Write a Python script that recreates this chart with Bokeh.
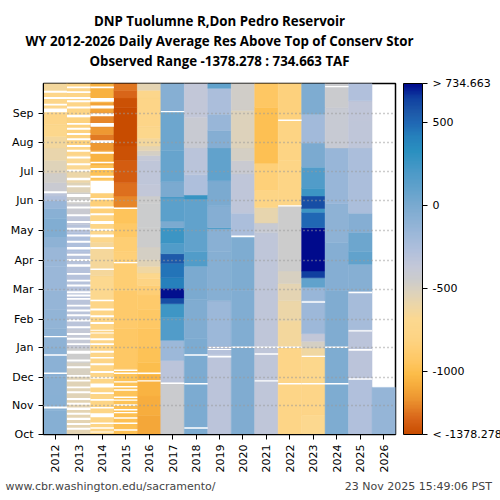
import math
import numpy as np
from bokeh.plotting import figure
from bokeh.models import (ColumnDataSource, LinearColorMapper, ColorBar, FixedTicker,
                          CustomJSTickFormatter, Title, Range1d)
from bokeh.embed import file_html
from bokeh.resources import INLINE

# ---------------- text ----------------
title_lines = ["DNP Tuolumne R,Don Pedro Reservoir",
               "WY 2012-2026 Daily Average Res Above Top of Conserv Stor",
               "Observed Range -1378.278 : 734.663 TAF"]
footer_left = "www.cbr.washington.edu/sacramento/"
footer_right = "23 Nov 2025 15:49:06 PST"

# ---------------- axes ----------------
years = [2012, 2013, 2014, 2015, 2016, 2017, 2018, 2019, 2020, 2021, 2022, 2023, 2024, 2025, 2026]
month_labels = ["Oct", "Nov", "Dec", "Jan", "Feb", "Mar", "Apr", "May", "Jun", "Jul", "Aug", "Sep"]
month_days = [0, 30, 59, 90, 120, 151, 181, 212, 243, 273, 304, 334]
obs_min = -1378.278
obs_max = 734.663
cbar_ticks = [-1000, -500, 0, 500]

# ---------------- data: (day of water year, TAF) segments, last entry = end ----------------
wy2012 = [(0, -60), (25, -70), (40, -80), (60, -90), (90, -100), (110, -120), (130, -140), (150, -160),
          (175, -160), (195, -100), (205, -40), (225, -80), (235, -150), (243, -280), (248, -330),
          (252, -420), (262, -470), (272, -530), (285, -580), (298, -640), (310, -720), (322, -760),
          (340, -750), (358, -640), (365, None)]
wy2013 = [(0, -560), (35, -540), (60, -500), (75, -450), (90, -380), (110, -320), (150, -300), (190, -260),
          (210, -300), (218, -340), (228, -420), (240, -460), (252, -530), (262, -600), (275, -680),
          (290, -760), (300, -820), (330, -780), (340, -760), (365, None)]
wy2014 = [(0, -780), (60, -770), (140, -700), (165, -650), (200, -720), (210, -780), (228, -850),
          (255, -900), (265, -980), (280, -1050), (295, -1150), (305, -1230), (312, -1150), (320, -1200),
          (335, -1120), (345, -1060), (365, None)]
wy2015 = [(0, -990), (30, -970), (69, -930), (110, -900), (150, -870), (178, -850), (190, -870),
          (205, -920), (220, -960), (234, -1000), (236, -1200), (248, -1260), (262, -1320), (285, -1360),
          (300, -1375), (340, -1360), (350, -1280), (358, -1240), (365, None)]
wy2016 = [(0, -1100), (20, -1080), (40, -1050), (62, -1000), (75, -980), (90, -950), (110, -930),
          (130, -900), (145, -860), (155, -800), (162, -720), (168, -620), (175, -540), (182, -480),
          (195, -450), (215, -440), (240, -450), (248, -360), (260, -340), (285, -380), (290, -480),
          (295, -560), (300, -640), (308, -720), (320, -760), (350, -740), (358, -560), (365, None)]
wy2017 = [(0, -430), (54, -330), (77, -170), (98, 180), (122, 250), (136, 600), (142, 720), (152, 420),
          (163, 460), (178, 560), (188, 180), (199, 260), (215, 0), (222, 130), (246, 250), (247, 0),
          (263, 80), (295, 50), (336, -60), (365, None)]
wy2018 = [(0, -10), (100, -30), (140, 0), (175, 180), (190, 100), (245, 280), (249, -260), (270, -320),
          (298, -410), (330, -360), (365, None)]
wy2019 = [(0, -330), (83, -300), (92, -170), (139, -60), (190, -80), (214, 250), (215, -50), (238, 0),
          (264, 100), (298, -50), (316, -150), (333, -240), (360, 100), (365, None)]
wy2020 = [(0, -30), (91, -40), (150, -20), (207, -240), (230, -340), (271, -420), (285, -480),
          (298, -520), (337, -470), (365, None)]
wy2021 = [(0, -340), (210, -400), (220, -570), (236, -780), (254, -850), (282, -990), (340, -940),
          (365, None)]
wy2022 = [(0, -770), (53, -760), (91, -640), (118, -600), (139, -560), (157, -500), (170, -450),
          (238, -780), (285, -800), (327, -830), (365, None)]
wy2023 = [(0, -700), (20, -760), (53, -720), (82, -620), (90, -480), (97, -360), (105, -180), (139, -150),
          (153, 100), (163, 650), (170, 735), (215, 500), (231, 260), (235, 600), (248, 260), (256, 180),
          (278, 0), (303, -200), (333, -20), (365, None)]
wy2024 = [(0, -20), (91, -30), (150, -50), (200, -100), (240, -150), (298, -400), (340, -430),
          (365, None)]
wy2025 = [(0, -280), (58, -330), (109, -220), (149, -60), (177, 100), (190, 50), (210, -50), (230, -240),
          (298, -340), (327, -350), (347, -280), (365, None)]
wy2026 = [(0, -140), (49, None)]

# missing days (start, end)
gaps2012 = [(27, 29), (63, 64.5), (82, 83.5), (101, 102.5), (251, 253), (335, 339), (342, 344),
            (349, 351), (355.5, 357.5)]
gaps2013 = [(5, 7), (10, 12), (15, 17.5), (20.5, 22.5), (25.5, 28), (31, 33), (36, 38), (43, 45), (48, 50),
            (55, 57), (60, 62), (69, 71), (76, 78), (84, 87), (93, 95), (98.5, 100.5), (103.5, 105.5),
            (110.5, 112.5), (117.5, 119.5), (123, 125), (128, 130), (133, 135), (140, 142), (143.5, 145.5),
            (147, 149), (154, 156), (159, 161), (166, 168), (174.5, 177), (180.5, 182.5), (186, 188),
            (192.5, 195), (199.5, 201.5), (206, 208), (213, 215), (220, 222), (227, 229), (235, 237),
            (241.5, 243.5), (247, 250), (257, 259), (264.5, 267), (273.5, 275.5), (280, 282), (287, 289),
            (294, 296), (299, 301), (306, 308), (311.5, 313.5), (317, 319), (322, 324), (330, 332.5),
            (339, 341), (345.5, 347.5), (349, 351), (355, 357), (360, 362)]
gaps2014 = [(2, 3), (6, 7.5), (11, 12.5), (18, 22), (27, 28.5), (35, 37), (42, 44), (49, 53), (58, 59.5),
            (64, 66), (72, 74), (79, 80.5), (85, 87), (93, 95), (98, 100), (105, 106), (108, 109),
            (115, 117), (122, 124), (129, 131), (138.5, 140), (171, 172.5), (193, 195), (205, 208),
            (212, 214), (219, 222), (228, 230), (235, 237), (244, 246), (251, 264), (267, 269), (275, 277),
            (282, 283.5), (292, 294), (303, 306), (320, 324), (331, 334), (339, 342), (346, 350), (360, 362)]
gaps2015 = [(4, 5.5), (11, 12.5), (16.5, 18), (22, 23.5), (25, 26.5), (30, 31.5), (35, 36.5), (38, 39.5),
            (45.5, 47), (49, 50.5), (54, 55.5), (63, 64.5), (66, 67.5), (178, 179.5), (234.5, 236)]
gaps2016 = [(55, 56.5), (63, 64.5)]
gaps2017 = [(52.5, 54), (335, 336.5)]
gaps2018 = [(6, 7.5), (52, 53.5), (82, 83.5)]
gaps2019 = [(80, 82), (88, 89), (90, 91)]
gaps2020 = [(90, 91.5), (205, 207)]
gaps2021 = [(55, 56.5), (83, 84.5), (90, 91.5)]
gaps2022 = [(52, 53.5), (90, 91.5), (237, 238.5), (326, 327.5)]
gaps2023 = [(52, 53.5), (80.5, 82), (137, 138.5)]
gaps2024 = [(52, 53.5), (90, 91.5), (361, 362.5)]
gaps2025 = [(57, 58.5), (87, 89), (107, 108.5), (147, 148.5)]
gaps2026 = []

year_segments = [wy2012, wy2013, wy2014, wy2015, wy2016, wy2017, wy2018, wy2019, wy2020,
                 wy2021, wy2022, wy2023, wy2024, wy2025, wy2026]
year_gaps = [gaps2012, gaps2013, gaps2014, gaps2015, gaps2016, gaps2017, gaps2018, gaps2019, gaps2020,
             gaps2021, gaps2022, gaps2023, gaps2024, gaps2025, gaps2026]

# ---------------- colour scale ----------------
stop_vals = [-1378.278, -1290, -1170, -1100, -1020, -950, -870, -800, -690, -600, -520, -450,
             -370, -270, -150, 0, 100, 200, 330, 420, 500, 560, 650, 734.663]
stop_cols = ["#c84c00", "#d86418", "#ec9430", "#f5a83a", "#fcbc48", "#fec660", "#fece74", "#fdd484",
             "#fcd890", "#ecd6a8", "#dcd2bc", "#cccccc", "#c4c8d8", "#b0c0dc", "#98b6d8", "#7aaad0",
             "#62a2cc", "#4c9ac8", "#2a90c0", "#2680bc", "#2068b4", "#1e5aaa", "#1040a0", "#000a8c"]


def hex2rgb(h):
    return [int(h[i:i + 2], 16) for i in (1, 3, 5)]


rgb = np.array([hex2rgb(c) for c in stop_cols], dtype=float)
pal_vals = np.linspace(obs_min, obs_max, 256)
palette = []
for v in pal_vals:
    r, g, b = (np.interp(v, stop_vals, rgb[:, k]) for k in range(3))
    palette.append("#%02x%02x%02x" % (int(round(r)), int(round(g)), int(round(b))))
mapper = LinearColorMapper(palette=palette, low=obs_min, high=obs_max)

# ---------------- build cells ----------------
cells = dict(left=[], right=[], bottom=[], top=[], val=[])
for yr, seg in zip(years, year_segments):
    for (d0, v), (d1, _) in zip(seg[:-1], seg[1:]):
        if v is None:
            continue
        cells["left"].append(yr - 0.5)
        cells["right"].append(yr + 0.5)
        cells["bottom"].append(d0)
        cells["top"].append(d1)
        cells["val"].append(v)

holes = dict(left=[], right=[], bottom=[], top=[])
for yr, gl in zip(years, year_gaps):
    for (g0, g1) in gl:
        holes["left"].append(yr - 0.5)
        holes["right"].append(yr + 0.5)
        holes["bottom"].append(g0)
        holes["top"].append(g1)

# ---------------- figure ----------------
p = figure(width=500, height=500, x_range=Range1d(2011.5, 2026.5), y_range=Range1d(0, 365),
           output_backend="svg", toolbar_location=None,
           min_border_left=43, min_border_right=105, min_border_top=83, min_border_bottom=66)
p.background_fill_color = "white"
p.border_fill_color = "white"
p.outline_line_color = "black"
p.outline_line_width = 1.5

p.quad(left="left", right="right", bottom="bottom", top="top", source=ColumnDataSource(cells),
       fill_color={"field": "val", "transform": mapper},
       line_color={"field": "val", "transform": mapper}, line_width=0.5)
p.quad(left="left", right="right", bottom="bottom", top="top", source=ColumnDataSource(holes),
       fill_color="white", line_color=None)

p.xaxis.ticker = FixedTicker(ticks=years)
p.xaxis.major_label_overrides = {y: str(y) for y in years}
p.xaxis.major_label_orientation = math.pi / 2
p.yaxis.ticker = FixedTicker(ticks=month_days)
p.yaxis.major_label_overrides = {d: m for d, m in zip(month_days, month_labels)}
for ax in (p.xaxis, p.yaxis):
    ax.major_label_text_font = "DejaVu Sans"
    ax.major_label_text_font_size = "11px"
    ax.major_label_text_color = "black"
    ax.major_tick_out = 5
    ax.major_tick_in = 0
    ax.minor_tick_line_color = None
    ax.axis_line_color = "black"
    ax.major_tick_line_color = "black"

p.xgrid.visible = False
p.ygrid.ticker = FixedTicker(ticks=month_days[1:])
p.ygrid.grid_line_color = "#999999"
p.ygrid.grid_line_dash = "1 3"
p.ygrid.grid_line_width = 1.3
p.ygrid.level = "overlay"

cb = ColorBar(color_mapper=mapper,
              ticker=FixedTicker(ticks=[obs_min] + cbar_ticks + [obs_max]),
              formatter=CustomJSTickFormatter(code="""
                  if (tick > 734) { return "> 734.663"; }
                  if (tick < -1378) { return "< -1378.278"; }
                  return tick.toFixed(0);"""),
              width=19, height=351, padding=0, margin=0, location=(360, 0),
              major_tick_in=0, major_tick_out=5, major_tick_line_color="black",
              bar_line_color="black", bar_line_width=1, label_standoff=5,
              major_label_text_font="DejaVu Sans", major_label_text_font_size="11px",
              major_label_text_color="black", background_fill_alpha=0, border_line_color=None)
p.add_layout(cb)

HAS_STANDOFF = "standoff" in Title.properties()


def style_title(t, size, font, bold, color, standoff, lh):
    t.text_font = font
    t.text_font_size = size
    t.text_font_style = "bold" if bold else "normal"
    t.text_color = color
    t.text_line_height = lh
    if HAS_STANDOFF:
        t.standoff = standoff


p.title.text = ""
# thin spacer between the frame and the title block
spacer = Title(text=" ", align="center")
style_title(spacer, "1px", "DejaVu Sans", False, "white", 11, 1.0)
p.add_layout(spacer, "above")
# three title lines; the first one added sits closest to the frame
for txt in (title_lines[2], title_lines[1], title_lines[0]):
    t = Title(text=txt, align="center")
    style_title(t, "13.3px", "Open Sans", True, "black", 0, 1.0)
    p.add_layout(t, "above")

# footer: both texts on one line
footer = footer_left + "\u00a0" * 37 + footer_right
ft = Title(text=footer, align="left", offset=-38)
style_title(ft, "11px", "DejaVu Sans", False, "#444444", 4, 1.2)
p.add_layout(ft, "below")

open("out.html", "w").write(file_html(p, INLINE))
